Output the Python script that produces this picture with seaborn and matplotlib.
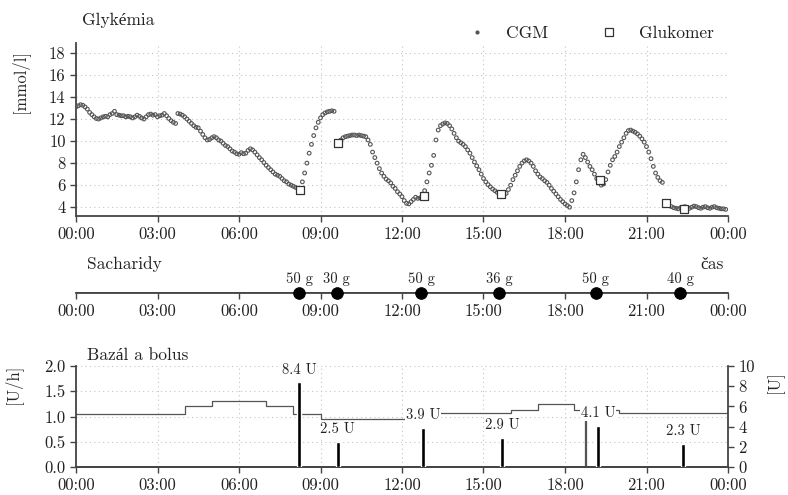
import numpy as np
import pandas as pd
import matplotlib
matplotlib.use("Agg")
import matplotlib.pyplot as plt
import seaborn as sns
from matplotlib.lines import Line2D

nan = np.nan

# ---------------- data ----------------
# CGM readings every 5 minutes, one list per hour [mmol/l]
h00 = [13.1, 13.2, 13.3, 13.25, 13.1, 12.9, 12.6, 12.4, 12.2, 12.05, 12.0, 12.1]
h01 = [12.2, 12.25, 12.2, 12.4, 12.5, 12.7, 12.4, 12.35, 12.3, 12.3, 12.2, 12.25]
h02 = [12.2, 12.1, 12.2, 12.35, 12.25, 12.1, 12.0, 12.2, 12.4, 12.45, 12.35, 12.4]
h03 = [12.2, 12.3, 12.35, 12.5, 12.3, 12.05, 11.85, 11.7, 11.6, 12.5, 12.45, 12.35]
h04 = [12.2, 12.0, 11.8, 11.6, 11.4, 11.25, 11.2, 10.9, 10.6, 10.3, 10.1, 10.15]
h05 = [10.3, 10.4, 10.3, 10.1, 10.0, 9.8, 9.6, 9.5, 9.3, 9.1, 9.0, 8.85]
h06 = [8.8, 8.95, 8.85, 8.9, 9.15, 9.3, 9.2, 9.0, 8.75, 8.5, 8.3, 8.05]
h07 = [7.8, 7.6, 7.4, 7.2, 7.0, 6.9, 6.8, 6.6, 6.4, 6.3, 6.1, 6.0]
h08 = [5.9, 5.8, 5.7, 5.7, 6.3, 7.1, 8.0, 8.9, 9.7, 10.5, 11.2, 11.7]
h09 = [12.1, 12.4, 12.55, 12.65, 12.7, 12.75, 12.7, nan, 9.9, 10.1, 10.3, 10.4]
h10 = [10.45, 10.5, 10.55, 10.55, 10.5, 10.55, 10.5, 10.45, 10.4, 10.1, 9.7, 9.0]
h11 = [8.5, 8.0, 7.5, 7.1, 6.8, 6.55, 6.4, 6.2, 5.9, 5.7, 5.4, 5.2]
h12 = [4.95, 4.6, 4.35, 4.3, 4.5, 4.7, 4.9, 4.8, 4.85, 5.1, 5.5, 6.3]
h13 = [7.1, 7.8, 8.7, 10.1, 11.0, 11.4, 11.55, 11.65, 11.6, 11.4, 11.1, 10.7]
h14 = [10.3, 10.0, 9.85, 9.7, 9.5, 9.2, 8.9, 8.5, 8.1, 7.75, 7.4, 7.0]
h15 = [6.6, 6.3, 6.05, 5.85, 5.65, 5.5, 5.35, 5.3, 5.2, 5.2, 5.25, 5.6]
h16 = [6.0, 6.5, 6.9, 7.3, 7.7, 8.0, 8.2, 8.3, 8.2, 8.0, 7.7, 7.3]
h17 = [7.0, 6.75, 6.6, 6.4, 6.25, 6.0, 5.7, 5.45, 5.2, 4.95, 4.7, 4.5]
h18 = [4.3, 4.15, 4.0, 4.6, 5.3, 6.3, 7.4, 8.3, 8.8, 8.5, 8.1, 7.7]
h19 = [7.4, 7.0, 6.6, 6.2, 6.0, 6.1, 6.5, 7.2, 7.8, 8.3, 8.6, 9.0]
h20 = [9.5, 9.9, 10.3, 10.7, 10.95, 11.0, 10.9, 10.8, 10.65, 10.45, 10.2, 9.9]
h21 = [9.5, 9.0, 8.4, 7.7, 7.1, 6.7, 6.4, 6.25, nan, nan, nan, 4.05]
h22 = [3.95, 3.9, 3.85, 3.95, 4.0, 4.05, 3.95, 3.9, 4.0, 4.1, 4.05, 3.95]
h23 = [3.9, 4.0, 4.05, 3.95, 3.9, 4.0, 4.05, 3.95, 3.9, 3.85, 3.85, 3.8]
cgm_hours = [h00, h01, h02, h03, h04, h05, h06, h07, h08, h09, h10, h11,
             h12, h13, h14, h15, h16, h17, h18, h19, h20, h21, h22, h23]
cgm_step_min = 5

# Glucometer readings
gluk_time = [8.25, 9.63, 12.8, 15.63, 19.3, 21.7, 22.37]
gluk_value = [5.6, 9.8, 5.0, 5.2, 6.45, 4.35, 3.85]

# Carbohydrates
carb_time = [8.22, 9.60, 12.70, 15.58, 19.13, 22.25]
carb_grams = [50, 30, 50, 36, 50, 40]

# Basal profile [U/h] (segment start times)
basal_time = [0, 4, 5, 7, 8, 9, 13, 16, 17, 18.33, 18.75, 18.76, 20, 24]
basal_rate = [1.05, 1.21, 1.31, 1.21, 1.05, 0.96, 1.06, 1.13, 1.25, 1.13, 0.0, 1.13, 1.06, 1.06]

# Boluses [U]
bolus_time = [8.22, 9.63, 12.78, 15.68, 19.22, 22.35]
bolus_units = [8.4, 2.5, 3.9, 2.9, 4.1, 2.3]

tick_hours = list(range(0, 25, 3))
tick_labels = ["00:00", "03:00", "06:00", "09:00", "12:00", "15:00", "18:00", "21:00", "00:00"]

# ---------------- style ----------------
sns.set_style("ticks")
plt.rcParams["font.family"] = ["cmr10", "Liberation Serif"]
plt.rcParams["axes.unicode_minus"] = False
plt.rcParams["mathtext.fontset"] = "cm"

TXT = "#222222"
SPINE = "#444444"
FS = 12
plt.rcParams.update({
    "xtick.color": SPINE, "ytick.color": SPINE,
    "xtick.labelcolor": TXT, "ytick.labelcolor": TXT,
    "xtick.direction": "out", "ytick.direction": "out",
    "xtick.major.size": 4, "ytick.major.size": 4,
    "xtick.major.width": 1.0, "ytick.major.width": 1.0,
    "xtick.labelsize": FS, "ytick.labelsize": FS,
    "axes.edgecolor": SPINE, "axes.linewidth": 1.3,
    "text.color": TXT,
})

cgm_vals = np.concatenate([np.array(h, dtype=float) for h in cgm_hours])
cgm_t = np.arange(len(cgm_vals)) * cgm_step_min / 60.0
df_cgm = pd.DataFrame({"t": cgm_t, "g": cgm_vals}).dropna()
df_gluk = pd.DataFrame({"t": gluk_time, "g": gluk_value})
df_carb = pd.DataFrame({"t": carb_time, "c": carb_grams, "y": 0.0})

W, H = 788, 495
fig = plt.figure(figsize=(W / 100, H / 100), dpi=100)

L = 76 / W
AW = 652 / W
grid_kw = dict(color="#c4c4c4", linestyle=(0, (1, 3)), linewidth=0.8)


def style_x(ax):
    ax.set_xlim(0, 24)
    ax.set_xticks(tick_hours)
    ax.set_xticklabels(tick_labels)
    ax.set_xlabel("")


# ---------------- top: glycemia ----------------
ax1 = fig.add_axes([L, 1 - 216 / H, AW, 173 / H])
sns.scatterplot(data=df_cgm, x="t", y="g", ax=ax1, marker="o", s=7,
                facecolor="none", edgecolor="#555555", linewidth=0.8, zorder=3)
sns.scatterplot(data=df_gluk, x="t", y="g", ax=ax1, marker="s", s=36,
                facecolor="white", edgecolor="#333333", linewidth=0.9, zorder=4)
style_x(ax1)
ax1.set_ylim(3.2, 18.9)
ax1.set_yticks(range(4, 19, 2))
ax1.set_ylabel("[mmol/l]", fontsize=FS)
ax1.yaxis.set_label_coords(-0.072, 0.78)
ax1.grid(True, **grid_kw)
ax1.set_axisbelow(True)
sns.despine(ax=ax1)

handles = [Line2D([], [], ls="none", marker=".", color="#555555", markersize=4),
           Line2D([], [], ls="none", marker="s", mfc="none", mec="#333333", markersize=6, mew=0.9)]
fig.legend(handles, ["CGM", "Glukomer"], loc="center", ncol=2, frameon=False,
           bbox_to_anchor=(591 / W, 1 - 33 / H), fontsize=FS + 0.5,
           handletextpad=1.2, columnspacing=3.0, handlelength=1.0)

fig.text(82 / W, 1 - 20 / H, "Glykémia", fontsize=FS + 0.5, va="center", ha="left")

# ---------------- middle: carbohydrates ----------------
axc = fig.add_axes([L, 1 - 293 / H, AW, 30 / H])
axc.hlines(0, 0, 24, color=SPINE, lw=1.3)
sns.scatterplot(data=df_carb, x="t", y="y", ax=axc, s=70, color="black",
                edgecolor="black", clip_on=False, zorder=5)
for t, c in zip(carb_time, carb_grams):
    axc.annotate(f"{c} g", (t, 0), xytext=(0, 10), textcoords="offset points",
                 ha="center", va="center", fontsize=10.5)
style_x(axc)
axc.set_ylim(0, 1)
axc.set_yticks([])
axc.set_ylabel("")
for s in ["left", "right", "top"]:
    axc.spines[s].set_visible(False)
fig.text(87 / W, 1 - 264 / H, "Sacharidy", fontsize=FS + 0.5, va="center", ha="left")
fig.text(700 / W, 1 - 264 / H, "čas", fontsize=FS + 0.5, va="center", ha="left")

# ---------------- bottom: basal & bolus ----------------
ax3 = fig.add_axes([L, 1 - 467 / H, AW, 101 / H])
ax3.step(basal_time, basal_rate, where="post", color="#555555", lw=0.9, zorder=2)
style_x(ax3)
ax3.set_ylim(0, 2.0)
ax3.set_yticks([0, 0.5, 1.0, 1.5, 2.0])
ax3.set_yticklabels(["0.0", "0.5", "1.0", "1.5", "2.0"])
ax3.set_ylabel("[U/h]", fontsize=FS)
ax3.yaxis.set_label_coords(-0.083, 0.82)
ax3.grid(True, **grid_kw)
ax3.set_axisbelow(True)
ax3.spines["top"].set_visible(False)
ax3.spines["right"].set_visible(False)

ax4 = ax3.twinx()
ax4.bar(bolus_time, bolus_units, width=0.15, color="black", zorder=3)
ax4.set_ylim(0, 10)
ax4.set_yticks(range(0, 11, 2))
ax4.set_ylabel("[U]", fontsize=FS)
ax4.yaxis.set_label_coords(1.058, 0.84)
ax4.spines["top"].set_visible(False)
ax4.spines["left"].set_visible(False)
for t, u in zip(bolus_time, bolus_units):
    ax4.annotate(f"{u:.1f} U", (t, u), xytext=(0, 9), textcoords="offset points",
                 ha="center", va="center", fontsize=10.5, zorder=6,
                 bbox=dict(fc="white", ec="none", pad=0.6))
fig.text(87 / W, 1 - 355 / H, "Bazál a bolus", fontsize=FS + 0.5, va="center", ha="left")

fig.savefig("out.png", dpi=100)
